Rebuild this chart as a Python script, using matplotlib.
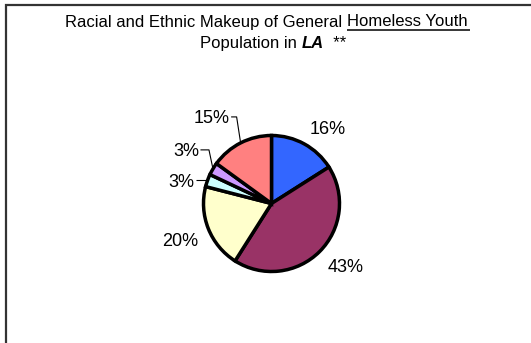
import matplotlib
matplotlib.use("Agg")
import matplotlib.pyplot as plt
from matplotlib.patches import Rectangle
import numpy as np

# Share of each group (percent), drawn clockwise from 12 o'clock
shares = [16, 43, 20, 3, 3, 15]
labels = [f"{v}%" for v in shares]
colors = ["#3366FF", "#993366", "#FFFFCC", "#CCFFFF", "#CC99FF", "#FF8080"]

title_plain = "Racial and Ethnic Makeup of General "
title_under = "Homeless Youth"
subtitle_plain = "Population in "
subtitle_bold = "LA"
subtitle_tail = "  **"

W, H = 531, 343
plt.rcParams["font.family"] = ["Liberation Sans", "DejaVu Sans"]

fig = plt.figure(figsize=(W / 100, H / 100), dpi=100)
ax = fig.add_axes([0, 0, 1, 1])


def Y(y):
    # top-down pixel row -> axis y
    return H - y


cx, cy, r = 271.5, Y(203.5), 68.0
wedges, _ = ax.pie(
    shares, colors=colors, startangle=90, counterclock=False,
    center=(cx, cy), radius=r, frame=True,
    wedgeprops=dict(edgecolor="black", linewidth=2.5),
)
ax.set_xlim(0, W)
ax.set_ylim(0, H)
ax.axis("off")

# outer frame
ax.add_patch(Rectangle((6, Y(H + 20)), W + 20, H + 15, fill=False,
                       edgecolor="#333333", linewidth=1.6, clip_on=False))

label_size = 13
# direct labels just outside the rim, leader labels further out
leader_rise = {3: 0, 4: 19, 5: 26}
leader_back = {3: 13, 4: 14, 5: 11}

for i, (w, lab) in enumerate(zip(wedges, labels)):
    mid = np.deg2rad((w.theta1 + w.theta2) / 2)
    ex, ey = cx + r * np.cos(mid), cy + r * np.sin(mid)
    if i in leader_rise:
        ty = ey + leader_rise[i]
        tx = ex - leader_back[i]
        ax.plot([tx + 1.5, ex - 4, ex], [ty, ty, ey], color="black",
                linewidth=0.8, solid_capstyle="butt")
        ax.text(tx, ty, lab, ha="right", va="center_baseline",
                fontsize=label_size)
    else:
        d = r * 1.16
        ax.text(cx + d * np.cos(mid), cy + d * np.sin(mid), lab,
                ha="left" if np.cos(mid) > 0 else "right",
                va="baseline" if np.sin(mid) > 0 else "top",
                fontsize=label_size)

# title, built piece by piece so part of it can be underlined
fig.canvas.draw()
rend = fig.canvas.get_renderer()
inv = ax.transData.inverted()


def width_of(t):
    bb = t.get_window_extent(renderer=rend)
    p0 = inv.transform((bb.x0, bb.y0))
    p1 = inv.transform((bb.x1, bb.y1))
    return p1[0] - p0[0]


tsize = 12
x0 = 65
t = ax.text(x0, Y(26.5), title_plain, fontsize=tsize, va="baseline")
x1 = x0 + width_of(t)
tu = ax.text(x1, Y(26.5), title_under, fontsize=tsize, va="baseline")
x2 = x1 + width_of(tu)
ax.plot([x1, x2 + 3], [Y(29.5), Y(29.5)], color="black", linewidth=1.1,
        solid_capstyle="butt")

x0 = 200
s = ax.text(x0, Y(48), subtitle_plain, fontsize=tsize, va="baseline")
x1 = x0 + width_of(s)
sb = ax.text(x1, Y(48), subtitle_bold, fontsize=tsize, va="baseline",
             fontweight="bold", fontstyle="italic")
x2 = x1 + width_of(sb)
ax.text(x2, Y(48), subtitle_tail, fontsize=tsize, va="baseline")

fig.savefig("out.png", dpi=100)
